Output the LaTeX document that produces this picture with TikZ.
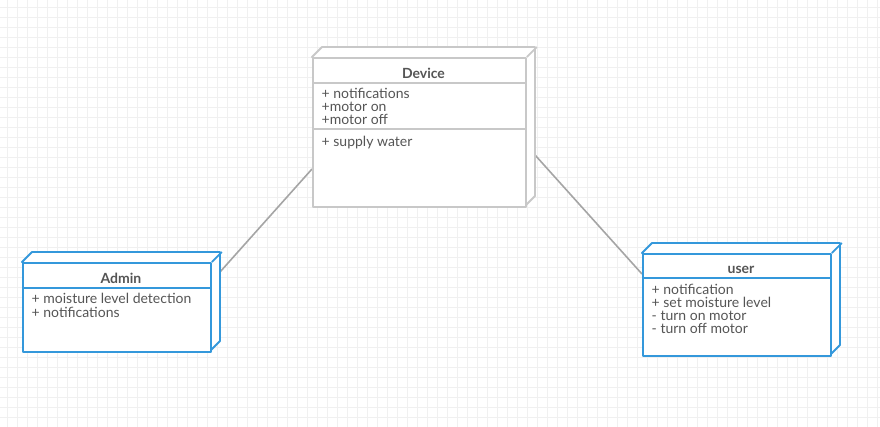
\documentclass[tikz,border=0pt]{standalone}
\usepackage{fontspec}
\setmainfont{Lato}
\usetikzlibrary{positioning}
\definecolor{gridgray}{RGB}{240,240,240}
\definecolor{boxgray}{RGB}{200,200,200}
\definecolor{linkgray}{RGB}{165,165,165}
\definecolor{classblue}{RGB}{52,152,219}
\definecolor{textgray}{RGB}{85,85,85}

\begin{document}
\begin{tikzpicture}[x=1pt, y=-1pt,
  devbox/.style={draw=boxgray, line width=1.8pt, fill=white, line join=round},
  bluebox/.style={draw=classblue, line width=1.8pt, fill=white, line join=round},
  front/.style={anchor=north west, inner sep=0pt},
  title/.style={font=\fontsize{14}{16}\selectfont\bfseries, text=textgray, anchor=base, inner sep=0pt},
  item/.style={font=\fontsize{14}{13}\selectfont, text=textgray, anchor=base west, inner sep=0pt},
  link/.style={draw=linkgray, line width=1.6pt}]
\useasboundingbox (0,0) rectangle (880,427);
\fill[white] (0,0) rectangle (880,427);

% Background grid
\foreach \x in {7,17,...,877} \draw[gridgray, line width=0.8pt] (\x,0) -- (\x,427);
\foreach \y in {7,17,...,427} \draw[gridgray, line width=0.8pt] (0,\y) -- (880,\y);

% Link ends
\coordinate (admin-link) at (220,272);
\coordinate (device-left) at (312,169);
\coordinate (device-right) at (535,155);
\coordinate (user-link) at (642,274);

% Links
\draw[link] (admin-link) -- (device-left);
\draw[link] (device-right) -- (user-link);

% Device box
\draw[devbox] (312,57) -- (322,47) -- (535,47) -- (535,196) -- (525,206) -- cycle;
\node[devbox, front, minimum width=213pt, minimum height=149pt] (device) at (312,57) {};
\draw[devbox] (device.north east) -- ++(10,-10);
\draw[devbox] (312,83) -- (525,83);
\draw[devbox] (312,129) -- (525,129);
\node[title] (device-title) at (423.5,79) {Device};
\foreach \txt [count=\i] in {+ notifications, +motor on, +motor off}
  \node[item] (device-attr-\i) at (321.5,{99+13*(\i-1)}) {\txt};
\node[item] (device-op) at (321.5,146.5) {+ supply water};

% Admin box
\draw[bluebox] (22,262) -- (32,252) -- (220,252) -- (220,341) -- (210,351) -- cycle;
\node[bluebox, front, minimum width=188pt, minimum height=89pt] (admin) at (22,262) {};
\draw[bluebox] (admin.north east) -- ++(10,-10);
\draw[bluebox] (22,288) -- (210,288);
\node[title] (admin-title) at (121,284) {Admin};
\foreach \txt [count=\i] in {+ moisture level detection, + notifications}
  \node[item] (admin-attr-\i) at (31.5,{304+13*(\i-1)}) {\txt};

% User box
\draw[bluebox] (642,253) -- (652,243) -- (840,243) -- (840,345) -- (830,355) -- cycle;
\node[bluebox, front, minimum width=188pt, minimum height=102pt] (user) at (642,253) {};
\draw[bluebox] (user.north east) -- ++(10,-10);
\draw[bluebox] (642,278) -- (830,278);
\node[title] (user-title) at (741,274) {user};
\foreach \txt [count=\i] in {+ notification, + set moisture level, - turn on motor, - turn off motor}
  \node[item] (user-attr-\i) at (651.5,{294.5+13*(\i-1)}) {\txt};
\end{tikzpicture}
\end{document}
